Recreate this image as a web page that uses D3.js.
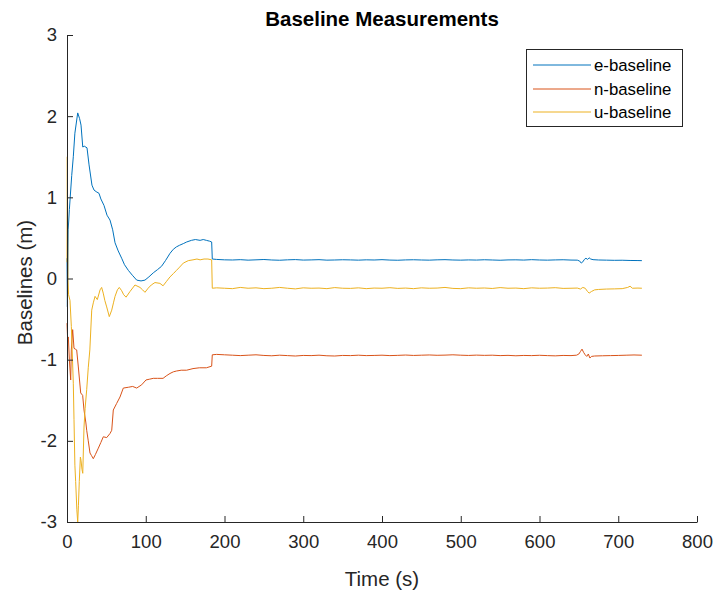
<!DOCTYPE html>
<html>
<head>
<meta charset="utf-8">
<script src="https://cdn.jsdelivr.net/npm/d3@7"></script>
<style>
  html, body { margin: 0; padding: 0; background: #ffffff; }
  svg { display: block; font-family: "Liberation Sans", Arial, Helvetica, sans-serif; }
</style>
</head>
<body>
<svg id="chart" width="717" height="597"></svg>
<script>
// ---------------- DATA ----------------
const chartTitle = "Baseline Measurements";
const xLabel = "Time (s)";
const yLabel = "Baselines (m)";
const seriesNames = ["e-baseline", "n-baseline", "u-baseline"];
const xTicks = [0, 100, 200, 300, 400, 500, 600, 700, 800];
const yTicks = [-3, -2, -1, 0, 1, 2, 3];

const eTime = [0, 0.5, 1, 1.5, 3, 6, 8, 10, 13.6, 16, 17.8, 20, 22, 25.4, 28, 31.7, 34.3, 37, 40.6, 43, 47, 50.8, 54.6, 58, 61, 65, 69.4, 73, 77.9, 83, 88.5, 94, 99, 104, 109.6, 115, 120, 125, 130.8, 135, 139, 143, 147.7, 152, 158, 163, 169, 173, 177, 181, 183.7, 184.5,
  190, 200, 210, 220, 230, 240, 250, 260, 270, 280, 290, 300, 310, 320, 330, 340, 350, 360, 370, 380, 390, 400, 410, 420, 430, 440, 450, 460, 470, 480, 490, 500, 510, 520, 530, 540, 550, 560, 570, 580, 590, 600, 610, 620, 630, 640, 648, 651, 653, 655, 657, 659, 661, 663, 665, 668, 675, 685, 695, 705, 715, 725, 730];
const eValues = [0.25, -0.35, 0.05, 0.6, 0.85, 1.27, 1.5, 1.79, 2.04, 1.97, 1.89, 1.62, 1.63, 1.61, 1.40, 1.15, 1.09, 1.07, 1.05, 0.98, 0.9, 0.78, 0.72, 0.6, 0.44, 0.34, 0.25, 0.17, 0.1, 0.04, -0.02, -0.03, -0.02, 0.02, 0.07, 0.11, 0.15, 0.22, 0.31, 0.36, 0.39, 0.41, 0.43, 0.45, 0.47, 0.48, 0.47, 0.48, 0.47, 0.46, 0.45, 0.24,
  0.235, 0.23, 0.228, 0.232, 0.226, 0.23, 0.234, 0.228, 0.225, 0.23, 0.233, 0.227, 0.229, 0.232, 0.226, 0.228, 0.231, 0.229, 0.226, 0.23, 0.228, 0.232, 0.227, 0.225, 0.229, 0.231, 0.228, 0.226, 0.23, 0.232, 0.228, 0.226, 0.229, 0.227, 0.231, 0.228, 0.225, 0.229, 0.23, 0.227, 0.232, 0.228, 0.226, 0.229, 0.231, 0.227, 0.226, 0.215, 0.19, 0.205, 0.235, 0.25, 0.235, 0.255, 0.24, 0.232, 0.228, 0.226, 0.224, 0.225, 0.222, 0.221, 0.22];

const nTime = [0, 0.8, 1.7, 3, 4.7, 5.5, 7.2, 8.9, 10.5, 12.3, 14.4, 17.4, 19.9, 21.6, 24, 25, 27, 29.2, 31, 33.4, 36, 39.8, 43, 46.1, 50.4, 54.6, 56.8, 58.8, 63, 67.3, 71.5, 77.9, 83.4, 88.5, 94.8, 100.3, 105, 109.6, 115, 122, 126, 130.8, 135, 139, 145, 151.9, 160, 168, 177, 183.7, 184.5,
  190, 200, 210, 220, 230, 240, 250, 260, 270, 280, 290, 300, 310, 320, 330, 340, 350, 360, 370, 380, 390, 400, 410, 420, 430, 440, 450, 460, 470, 480, 490, 500, 510, 520, 530, 540, 550, 560, 570, 580, 590, 600, 610, 620, 630, 640, 647, 650, 652, 654, 656, 658, 660, 662, 664, 666, 670, 680, 690, 700, 710, 720, 730];
const nValues = [-0.55, -0.75, -0.72, -1.0, -1.25, -0.88, -0.63, -0.86, -0.87, -0.88, -1.09, -1.41, -1.44, -1.62, -1.78, -1.87, -2.0, -2.15, -2.18, -2.22, -2.17, -2.09, -2.02, -1.95, -1.96, -1.91, -1.87, -1.62, -1.54, -1.46, -1.35, -1.34, -1.33, -1.35, -1.31, -1.25, -1.24, -1.23, -1.23, -1.23, -1.2, -1.17, -1.15, -1.14, -1.13, -1.13, -1.11, -1.1, -1.1, -1.08, -0.94,
  -0.935, -0.94, -0.945, -0.95, -0.945, -0.94, -0.948, -0.952, -0.945, -0.95, -0.955, -0.948, -0.95, -0.945, -0.952, -0.955, -0.948, -0.95, -0.945, -0.95, -0.948, -0.945, -0.95, -0.947, -0.943, -0.948, -0.945, -0.942, -0.946, -0.944, -0.94, -0.945, -0.948, -0.944, -0.947, -0.945, -0.95, -0.947, -0.952, -0.948, -0.95, -0.946, -0.95, -0.953, -0.948, -0.95, -0.945, -0.93, -0.9, -0.87, -0.91, -0.94, -0.96, -0.93, -0.98, -0.96, -0.955, -0.952, -0.95, -0.948, -0.945, -0.942, -0.945];

const uTime = [0, 0.4, 0.8, 1.2, 2, 3.8, 5.5, 8, 8.9, 10, 11, 12.5, 13.6, 14.5, 15.6, 17, 17.8, 19, 20, 21.6, 23, 25, 27, 29, 31.4, 33.4, 35.6, 38.5, 42, 44, 46, 48, 50.4, 53.7, 56.8, 59, 61, 64, 66.4, 69.4, 72, 75, 80, 86.3, 92.7, 96, 99, 103, 107, 111.7, 118, 122, 126, 130.8, 135, 139, 143, 147.7, 154, 160, 165, 169, 174, 179, 183.7, 184.5,
  190, 200, 210, 220, 230, 240, 250, 260, 270, 280, 290, 300, 310, 320, 330, 340, 350, 360, 370, 380, 390, 400, 410, 420, 430, 440, 450, 460, 470, 480, 490, 500, 510, 520, 530, 540, 550, 560, 570, 580, 590, 600, 610, 620, 630, 640, 648, 652, 655, 658, 661, 663, 666, 670, 675, 685, 695, 705, 712, 715, 718, 725, 730];
const uValues = [0.2, 1.5, 0.6, 0.0, -0.2, -0.27, -0.59, -1.29, -1.74, -2.3, -2.5, -2.85, -3.0, -2.8, -2.5, -2.2, -2.24, -2.35, -2.4, -1.83, -1.6, -1.37, -1.1, -0.88, -0.39, -0.3, -0.22, -0.26, -0.14, -0.11, -0.18, -0.27, -0.35, -0.47, -0.39, -0.3, -0.22, -0.14, -0.11, -0.15, -0.2, -0.23, -0.16, -0.08, -0.11, -0.14, -0.17, -0.12, -0.08, -0.05, -0.06, -0.09, -0.04, 0.02, 0.06, 0.1, 0.14, 0.19, 0.22, 0.23, 0.24, 0.23, 0.24, 0.24, 0.23, -0.12,
  -0.115, -0.12, -0.125, -0.11, -0.12, -0.115, -0.125, -0.12, -0.11, -0.12, -0.128, -0.115, -0.12, -0.118, -0.125, -0.112, -0.12, -0.122, -0.115, -0.125, -0.118, -0.12, -0.113, -0.122, -0.118, -0.125, -0.115, -0.12, -0.118, -0.11, -0.122, -0.125, -0.115, -0.12, -0.117, -0.123, -0.112, -0.12, -0.118, -0.125, -0.115, -0.12, -0.118, -0.113, -0.122, -0.12, -0.118, -0.13, -0.11, -0.12, -0.16, -0.18, -0.16, -0.14, -0.135, -0.13, -0.128, -0.125, -0.11, -0.095, -0.12, -0.118, -0.12];

const seriesColors = ["#0072BD", "#D95319", "#EDB120"];

// ---------------- CHART ----------------
const svg = d3.select("#chart");
const W = 717, H = 597;
const margin = { left: 67, right: 20, top: 35, bottom: 75 };
const axisColor = "#262626";

const x = d3.scaleLinear().domain([0, 800]).range([margin.left, W - margin.right]);
const y = d3.scaleLinear().domain([-3, 3]).range([H - margin.bottom, margin.top]);

svg.append("rect").attr("width", W).attr("height", H).attr("fill", "#fff");

const series = [
  { name: seriesNames[0], t: eTime, v: eValues, color: seriesColors[0] },
  { name: seriesNames[1], t: nTime, v: nValues, color: seriesColors[1] },
  { name: seriesNames[2], t: uTime, v: uValues, color: seriesColors[2] }
];

const line = d3.line().x(d => x(d[0])).y(d => y(d[1]));

svg.append("g").selectAll("path").data(series).join("path")
  .attr("d", s => line(s.t.map((t, i) => [t, s.v[i]])))
  .attr("fill", "none")
  .attr("stroke", s => s.color)
  .attr("stroke-width", 1)
  .attr("stroke-linejoin", "round");

// Axes
const xAxis = svg.append("g")
  .attr("transform", `translate(0,${y(-3)})`)
  .call(d3.axisBottom(x).tickValues(xTicks).tickFormat(d3.format("d")).tickSizeInner(-6).tickSizeOuter(0).tickPadding(13));
const yAxis = svg.append("g")
  .attr("transform", `translate(${x(0)},0)`)
  .call(d3.axisLeft(y).tickValues(yTicks).tickFormat(d => d < 0 ? "-" + Math.abs(d) : String(d)).tickSizeInner(-6).tickSizeOuter(0).tickPadding(10));

[xAxis, yAxis].forEach(g => {
  g.select(".domain").attr("stroke", axisColor).attr("stroke-width", 1);
  g.selectAll(".tick line").attr("stroke", axisColor).attr("stroke-width", 1);
  g.selectAll(".tick text").attr("fill", axisColor).style("font-size", "18.5px")
    .style("font-family", '"Liberation Sans", Arial, Helvetica, sans-serif');
});

// Title
svg.append("text")
  .attr("x", (x(0) + x(800)) / 2).attr("y", 26)
  .attr("text-anchor", "middle")
  .style("font-weight", "bold").style("font-size", "20.5px")
  .attr("fill", "#000")
  .text(chartTitle);

// Axis labels
svg.append("text")
  .attr("x", (x(0) + x(800)) / 2).attr("y", 586)
  .attr("text-anchor", "middle")
  .style("font-size", "20.5px").attr("fill", axisColor)
  .text(xLabel);

svg.append("text")
  .attr("transform", `translate(32,${(y(3) + y(-3)) / 2 + 4}) rotate(-90)`)
  .attr("text-anchor", "middle")
  .style("font-size", "20.5px").attr("fill", axisColor)
  .text(yLabel);

// Legend
const lg = svg.append("g");
lg.append("rect")
  .attr("x", 526.5).attr("y", 49.5).attr("width", 156).attr("height", 77)
  .attr("fill", "#fff").attr("stroke", axisColor).attr("stroke-width", 1);
const rowY = [65, 89, 112];
series.forEach((s, i) => {
  lg.append("line")
    .attr("x1", 533).attr("x2", 591).attr("y1", rowY[i]).attr("y2", rowY[i])
    .attr("stroke", s.color).attr("stroke-width", 1);
  lg.append("text")
    .attr("x", 594).attr("y", rowY[i]).attr("dy", "0.35em")
    .style("font-size", "16.8px").attr("fill", "#000")
    .text(s.name);
});
</script>
</body>
</html>
